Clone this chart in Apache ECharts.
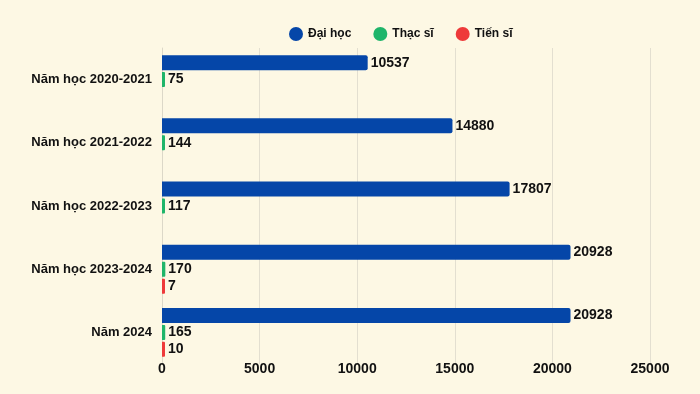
<!DOCTYPE html>
<html><head><meta charset="utf-8">
<script src="https://cdn.jsdelivr.net/npm/echarts@6/dist/echarts.min.js"></script>
<style>html,body{margin:0;padding:0;background:#fdf8e4;}#c{width:700px;height:394px;}</style>
</head><body><div id="c"></div>
<script>
const categories = ['Năm học 2020-2021','Năm học 2021-2022','Năm học 2022-2023','Năm học 2023-2024','Năm 2024'];
const daiHoc = [10537, 14880, 17807, 20928, 20928];
const thacSi = [75, 144, 117, 170, 165];
const tienSi = [null, null, null, 7, 10];
const xTicks = {min: 0, max: 25000, interval: 5000};

const font = '"Liberation Sans", Arial, sans-serif';
const lbl = {show: true, position: 'right', distance: 3, color: '#111', fontWeight: 'bold', fontSize: 14, fontFamily: font};
const chart = echarts.init(document.getElementById('c'));
chart.setOption({
  backgroundColor: '#fdf8e4',
  animation: false,
  legend: {
    top: 22, left: 284, itemWidth: 14, itemHeight: 14, itemGap: 22, icon: 'circle',
    textStyle: {fontWeight: 'bold', fontSize: 12, color: '#111', fontFamily: font}
  },
  grid: {left: 162, right: 50, top: 48, bottom: 30, containLabel: false},
  xAxis: {
    type: 'value', min: xTicks.min, max: xTicks.max, interval: xTicks.interval,
    axisLabel: {color: '#111', fontWeight: 'bold', fontSize: 14, fontFamily: font, margin: -2, formatter: v => String(v)},
    splitLine: {lineStyle: {color: '#e3dfd0'}},
    axisLine: {show: false}, axisTick: {show: false}
  },
  yAxis: {
    type: 'category', data: categories, inverse: true,
    axisLabel: {color: '#111', fontWeight: 'bold', fontSize: 13, fontFamily: font, margin: 10},
    axisLine: {show: true, lineStyle: {color: '#dcd8c8'}}, axisTick: {show: false}
  },
  series: [
    {name: 'Đại học', type: 'bar', data: daiHoc, barWidth: 15, barGap: '13%', itemStyle: {color: '#0546a8', borderRadius: [0,2,2,0]}, label: lbl},
    {name: 'Thạc sĩ', type: 'bar', data: thacSi, barWidth: 15, barMinHeight: 3, itemStyle: {color: '#1fb56a', borderRadius: [0,1,1,0]}, label: lbl},
    {name: 'Tiến sĩ', type: 'bar', data: tienSi, barWidth: 15, barMinHeight: 3, itemStyle: {color: '#ee3a3a', borderRadius: [0,1,1,0]}, label: lbl}
  ]
});
</script></body></html>
